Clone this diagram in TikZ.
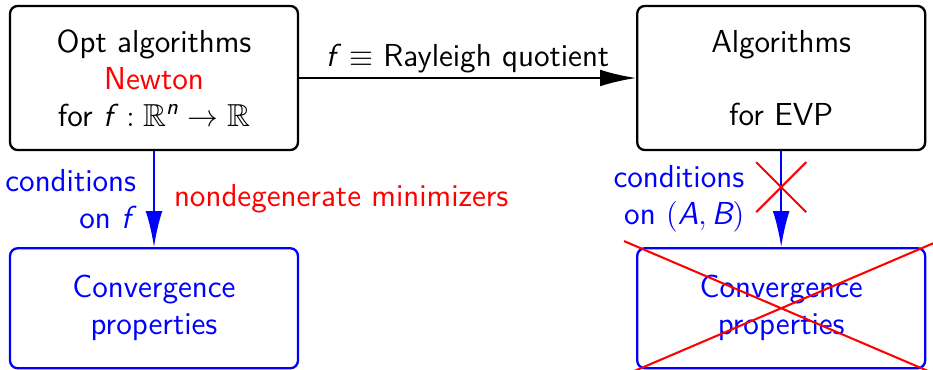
\documentclass[tikz,border=0pt]{standalone}
\usepackage{amsmath,amssymb}
\usetikzlibrary{positioning,arrows.meta,shapes.misc,calc}
\newcommand{\mvar}[1]{\text{\itshape #1}}

\begin{document}
\begin{tikzpicture}[x=0.39pt, y=0.39pt, font=\fontsize{12.4}{14.4}\selectfont\sffamily,
  box/.style={draw, rounded corners=3pt, line width=0.9pt, align=center, minimum width=112.3pt, minimum height=56.2pt},
  goal/.style={box, blue, minimum height=46.8pt},
  tip/.style={-{Latex[length=14pt,width=6.5pt]}, line width=0.8pt},
  nope/.style={red, line width=0.8pt}]
  \useasboundingbox (0,0) rectangle (933,370);
  \node[box] (opt) at (154,292) {Opt algorithms\\\textcolor{red}{Newton}\\for $\mvar{f}\, : \mathbb{R}^{\mvar{n}} \to \mathbb{R}$};
  \node[box] (evp) [right=131.4pt of opt] {Algorithms\\[14pt]for EVP};
  \node[goal] (cvg) [below=37.4pt of opt] {Convergence\\properties};
  \node[goal] (cvgevp) [below=37.4pt of evp] {Convergence\\properties};
  \draw[tip] (opt) -- node[above, inner sep=1.5pt] {$\mvar{f}\, \equiv$ Rayleigh quotient} (evp);
  \draw[tip, blue] (opt) -- node[left=6.6pt, inner sep=0pt, align=right] {conditions\\on $\mvar{f}$\,}
    node[right=7.4pt, inner sep=0pt, red] {nondegenerate minimizers} (cvg);
  \draw[tip, blue] (evp) -- node[left=14pt, inner sep=0pt, align=right] {conditions\\on $(\mvar{A},\mvar{B})$}
    node[pos=0.375, cross out, draw=red, minimum size=18.7pt, inner sep=0pt] (nolink) {} (cvgevp);
  \draw[nope] ($(cvgevp.north west)+(-12,6)$) -- ($(cvgevp.south east)+(12,-6)$)
    ($(cvgevp.north east)+(12,6)$) -- ($(cvgevp.south west)+(-12,-6)$);
\end{tikzpicture}
\end{document}
